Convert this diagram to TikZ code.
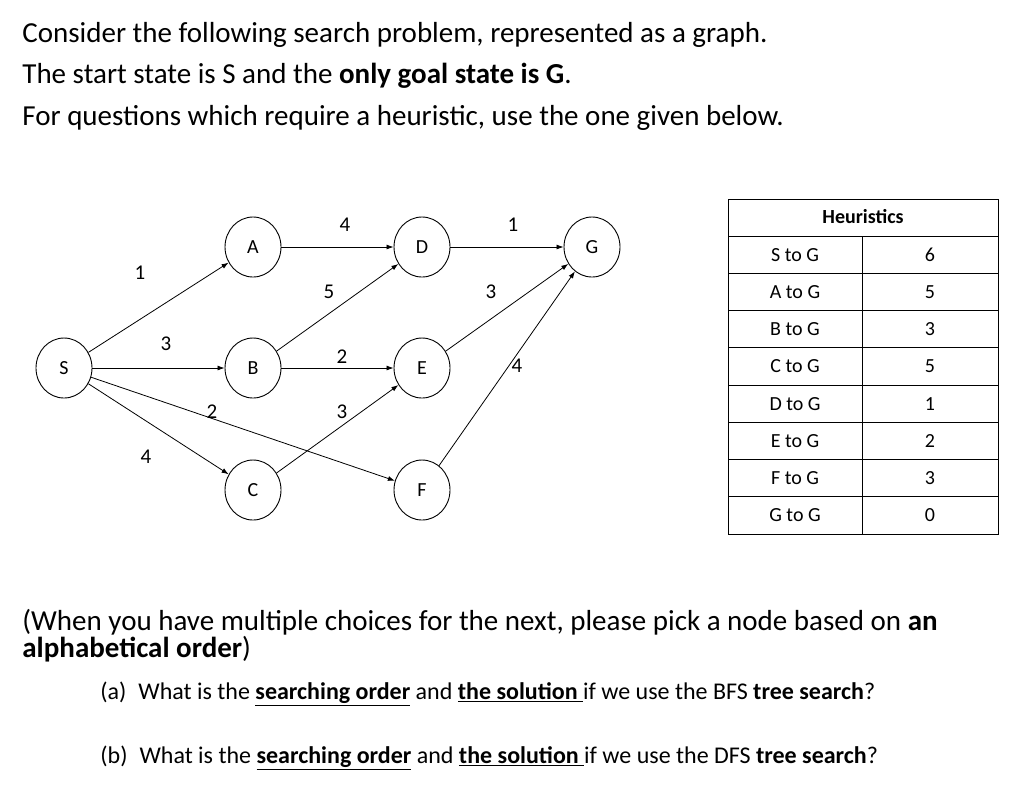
\documentclass[tikz,border=0pt]{standalone}
\usepackage{fontspec}
\setmainfont{Carlito}
\usetikzlibrary{arrows.meta,shapes.geometric}
\tikzset{
    >={Latex[length=7pt,width=5pt]},
    state/.style={ellipse,draw,line width=0.9pt,minimum width=56pt,minimum height=60pt,inner sep=0pt,font=\fontsize{20}{20}\selectfont},
    wt/.style={font=\fontsize{21}{21}\selectfont},
    cell/.style={font=\fontsize{20}{20}\selectfont},
    para/.style={right,inner sep=0pt,font=\fontsize{29}{29}\selectfont},
    ques/.style={right,inner sep=0pt,font=\fontsize{24}{24}\selectfont}
}
\begin{document}
\begin{tikzpicture}[x=1pt,y=-1pt,line width=0.8pt]
    \useasboundingbox (0,0) rectangle (1024,788);

    \node[para] (l1) at (22,35) {Consider the following search problem, represented as a graph.};
    \node[para] (l2) at (22,76) {The start state is S and the \textbf{only goal state is G}.};
    \node[para] (l3) at (22,118) {For questions which require a heuristic, use the one given below.};

    % graph
    \node[state] (S) at (64,368) {S};
    \node[state] (A) at (253,247) {A};
    \node[state] (B) at (253,368) {B};
    \node[state] (C) at (253,490) {C};
    \node[state] (D) at (422,247) {D};
    \node[state] (E) at (422,368) {E};
    \node[state] (F) at (422,490) {F};
    \node[state] (G) at (592,247) {G};

    \draw[->] (S) -- (A);
    \draw[->] (S) -- (B);
    \draw[->] (S) -- (C);
    \draw[->] (S) -- (F);
    \draw[->] (A) -- (D);
    \draw[->] (B) -- (D);
    \draw[->] (B) -- (E);
    \draw[->] (C) -- (E);
    \draw[->] (D) -- (G);
    \draw[->] (E) -- (G);
    \draw[->] (F) -- (G);

    \node[wt] (wSA) at (140,273) {1};
    \node[wt] (wSB) at (166,344) {3};
    \node[wt] (wSF) at (212,412) {2};
    \node[wt] (wSC) at (146,457) {4};
    \node[wt] (wAD) at (345,225) {4};
    \node[wt] (wBD) at (329,292) {5};
    \node[wt] (wBE) at (342,357) {2};
    \node[wt] (wCE) at (342,412) {3};
    \node[wt] (wDG) at (513,225) {1};
    \node[wt] (wEG) at (491,292) {3};
    \node[wt] (wFG) at (517,366) {4};

    % heuristics table
    \draw (728,199) rectangle (998,534);
    \draw (728,236) -- (998,236);
    \draw (862,236) -- (862,534);
    \node[cell,font=\fontsize{20}{20}\selectfont\bfseries] (hd) at (863,217) {Heuristics};
    \foreach \s/\h [count=\i] in {S/6,A/5,B/3,C/5,D/1,E/2,F/3,G/0} {
        \node[cell] (n\s) at (795,{236+37.25*\i-18.6}) {\s{} to G};
        \node[cell] (h\s) at (930,{236+37.25*\i-18.6}) {\h};
        \ifnum\i<8 \draw (728,{236+37.25*\i}) -- (998,{236+37.25*\i}); \fi
    }

    \node[para] (l4) at (22,622) {(When you have multiple choices for the next, please pick a node based on \textbf{an}};
    \node[para] (l5) at (22,649) {\textbf{alphabetical order})};
    \node[ques] (qa) at (100,694) {(a)\enspace What is the \textbf{\underline{searching order}} and \textbf{\underline{the solution }}if we use the BFS \textbf{tree search}?};
    \node[ques] (qb) at (100,758) {(b)\enspace What is the \textbf{\underline{searching order}} and \textbf{\underline{the solution }}if we use the DFS \textbf{tree search}?};
\end{tikzpicture}
\end{document}
